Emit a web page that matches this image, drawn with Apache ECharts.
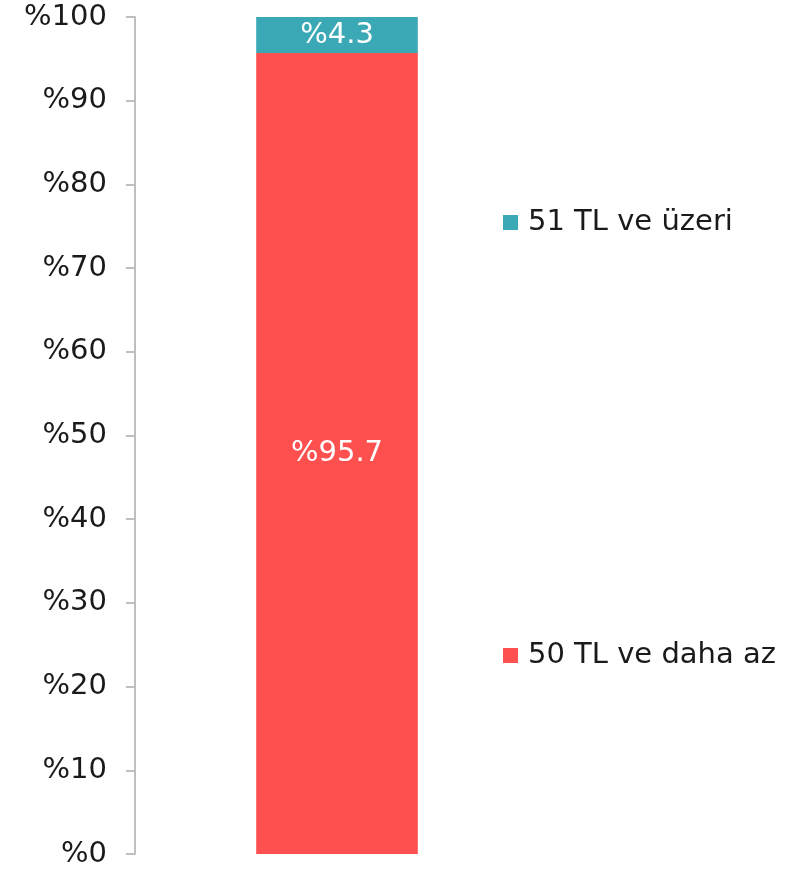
<!DOCTYPE html>
<html><head><meta charset="utf-8">
<script src="https://cdn.jsdelivr.net/npm/echarts@6/dist/echarts.min.js"></script>
<style>html,body{margin:0;padding:0;background:#fff}#c{width:801px;height:870px}</style>
</head><body><div id="c"></div>
<script>
const categories = [''];
const lowName = '50 TL ve daha az';
const highName = '51 TL ve üzeri';
const lowValues = [95.7];
const highValues = [4.3];
const yTicks = [0, 10, 20, 30, 40, 50, 60, 70, 80, 90, 100];

const FONT = 'DejaVu Sans';
const chart = echarts.init(document.getElementById('c'));
chart.setOption({
  animation: false,
  grid: { left: 135, width: 404, top: 17, bottom: 16 },
  xAxis: { type: 'category', data: categories, show: false },
  yAxis: {
    type: 'value', min: yTicks[0], max: yTicks[yTicks.length - 1], interval: 10,
    axisLine: { show: true, lineStyle: { color: '#bfbfbf', width: 2 } },
    axisTick: { show: true, length: 9, lineStyle: { color: '#bfbfbf', width: 2 } },
    splitLine: { show: false },
    axisLabel: { margin: 28, color: '#1a1a1a', fontFamily: FONT, fontSize: 29, formatter: v => '%' + v }
  },
  legend: [
    { data: [highName], left: 503, top: 208, padding: 0, orient: 'vertical', itemWidth: 15, itemHeight: 15, icon: 'rect',
      textStyle: { fontFamily: FONT, fontSize: 29, color: '#1a1a1a', padding: [0, 0, 0, 5] } },
    { data: [lowName], left: 503, top: 641, padding: 0, orient: 'vertical', itemWidth: 15, itemHeight: 15, icon: 'rect',
      textStyle: { fontFamily: FONT, fontSize: 29, color: '#1a1a1a', padding: [0, 0, 0, 5] } }
  ],
  series: [
    { name: lowName, type: 'bar', stack: 's', data: lowValues, barWidth: '40%',
      itemStyle: { color: '#ff5050' },
      label: { show: true, position: 'inside', color: '#fff', fontFamily: FONT, fontSize: 29, formatter: p => '%' + p.value } },
    { name: highName, type: 'bar', stack: 's', data: highValues, barWidth: '40%',
      itemStyle: { color: '#3aa8b5' },
      label: { show: true, position: 'inside', color: '#fff', fontFamily: FONT, fontSize: 29, formatter: p => '%' + p.value } }
  ]
});
</script></body></html>
